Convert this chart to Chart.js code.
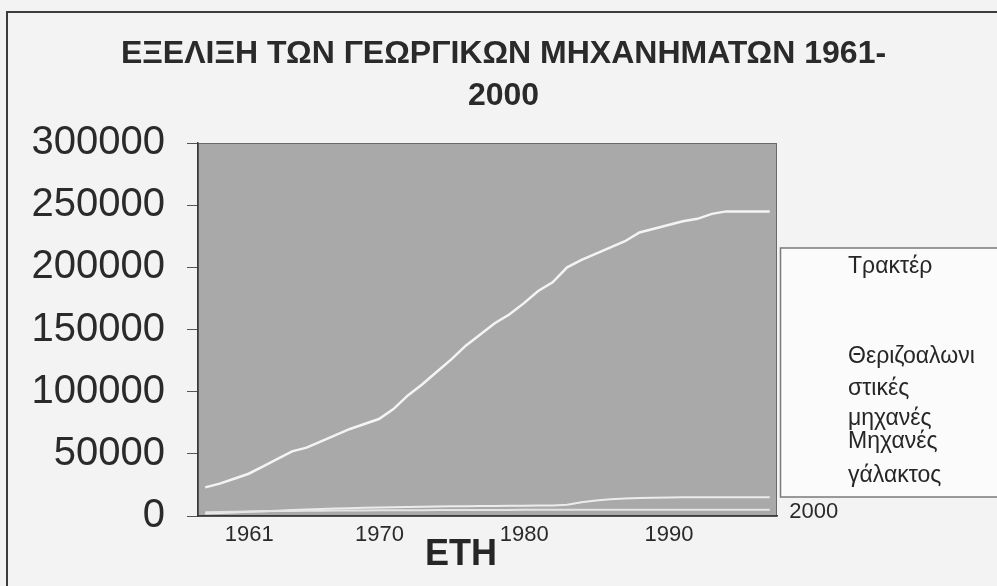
<!DOCTYPE html>
<html>
<head>
<meta charset="utf-8">
<script src="https://cdn.jsdelivr.net/npm/chart.js@4.4.1/dist/chart.umd.min.js"></script>
<style>
    html, body { margin: 0; padding: 0; background: #f3f3f3; overflow: hidden; }
    #frame {
        position: absolute; left: 6px; top: 11px; width: 1000px; height: 600px;
        border: 2px solid #3c3c3c; box-sizing: border-box;
    }
    #chart { position: absolute; left: 0; top: 0; }
</style>
</head>
<body>
<div id="frame"></div>
<canvas id="chart" width="997" height="586"></canvas>
<script>
'use strict';

const FONT = 'Arial, "Liberation Sans", sans-serif';

const years = [
    1961, 1962, 1963, 1964, 1965, 1966, 1967, 1968, 1969, 1970,
    1971, 1972, 1973, 1974, 1975, 1976, 1977, 1978, 1979, 1980,
    1981, 1982, 1983, 1984, 1985, 1986, 1987, 1988, 1989, 1990,
    1991, 1992, 1993, 1994, 1995, 1996, 1997, 1998, 1999, 2000
];

// 2000 sits apart, next to the legend box, so it is drawn by the plugin below
const shownYears = [1961, 1970, 1980, 1990];
const lastYear = 2000;

const tractors = [
    23000, 26000, 30000, 34000, 40000, 46000, 52000, 55000, 60000, 65000,
    70000, 74000, 78000, 86000, 97000, 106000, 116000, 126000, 137000, 146000,
    155000, 162000, 171000, 181000, 188000, 200000, 206000, 211000, 216000, 221000,
    228000, 231000, 234000, 237000, 239000, 243000, 245000, 245000, 245000, 245000
];

const harvesters = [
    3000, 3200, 3400, 3600, 3800, 4000, 4100, 4200, 4300, 4400,
    4500, 4500, 4600, 4600, 4700, 4700, 4800, 4800, 4800, 4900,
    4900, 4900, 5000, 5000, 5000, 5000, 5000, 5000, 5000, 5000,
    5000, 5000, 5000, 5000, 5000, 5000, 5000, 5000, 5000, 5000
];

const milking = [
    2000, 2400, 2900, 3400, 3900, 4300, 4800, 5200, 5600, 6000,
    6300, 6600, 6900, 7100, 7300, 7500, 7700, 7800, 7900, 8000,
    8100, 8200, 8300, 8400, 8500, 9000, 11000, 12500, 13500, 14000,
    14500, 14700, 14800, 15000, 15000, 15000, 15000, 15000, 15000, 15000
];

const seriesNames = ['Τρακτέρ', 'Θεριζοαλωνιστικές μηχανές', 'Μηχανές γάλακτος'];
const legendLines = [['Τρακτέρ'], ['Θεριζοαλωνι', 'στικές', 'μηχανές'], ['Μηχανές', 'γάλακτος']];
const legendBaselines = [[273], [363, 395, 425], [448, 482]];

const titleLines = ['ΕΞΕΛΙΞΗ ΤΩΝ ΓΕΩΡΓΙΚΩΝ ΜΗΧΑΝΗΜΑΤΩΝ 1961-', '2000'];
const xTitle = 'ΕΤΗ';

// grey plot background and the empty legend box, drawn before axes and lines
const backgrounds = {
    id: 'backgrounds',
    beforeDraw(chart) {
        const {ctx, chartArea: a} = chart;
        ctx.save();
        ctx.fillStyle = '#a9a9a9';
        ctx.fillRect(a.left, a.top, a.right - a.left, a.bottom - a.top);
        ctx.strokeStyle = '#6a6a6a';
        ctx.lineWidth = 1;
        ctx.strokeRect(a.left + 0.5, a.top + 0.5, a.right - a.left - 1, a.bottom - a.top);

        ctx.fillStyle = '#fbfbfb';
        ctx.fillRect(a.right + 3, 248, chart.width - a.right, 249);
        ctx.strokeStyle = '#7a7a7a';
        ctx.lineWidth = 1.5;
        ctx.strokeRect(a.right + 3.5, 248, chart.width - a.right, 249);
        ctx.restore();
    }
};

// legend texts, the raised last year label and the axis caption
const sideTexts = {
    id: 'sideTexts',
    afterDraw(chart) {
        const {ctx, chartArea: a} = chart;
        const xs = chart.scales.x;
        ctx.save();
        ctx.fillStyle = '#262626';
        ctx.font = '23px ' + FONT;
        ctx.textAlign = 'left';
        ctx.textBaseline = 'alphabetic';
        legendLines.forEach((lines, i) => {
            lines.forEach((t, j) => ctx.fillText(t, a.right + 71, legendBaselines[i][j]));
        });

        ctx.fillStyle = '#2a2a2a';
        ctx.font = '22px ' + FONT;
        ctx.textAlign = 'center';
        ctx.textBaseline = 'middle';
        ctx.fillText(String(lastYear), xs.getPixelForValue(years.indexOf(lastYear)) + 44, a.bottom - 4);

        ctx.fillStyle = '#262626';
        ctx.font = 'bold 36px ' + FONT;
        ctx.textBaseline = 'alphabetic';
        ctx.fillText(xTitle, a.left + 263, 565);
        ctx.restore();
    }
};

new Chart(document.getElementById('chart'), {
    type: 'line',
    data: {
        labels: years,
        datasets: [
            {label: seriesNames[0], data: tractors, borderColor: '#f4f4f4', borderWidth: 2.5},
            {label: seriesNames[1], data: harvesters, borderColor: '#e4e4e4', borderWidth: 2},
            {label: seriesNames[2], data: milking, borderColor: '#ececec', borderWidth: 2},
        ]
    },
    options: {
        responsive: false,
        animation: false,
        layout: {padding: {left: 10, top: 0, right: 0, bottom: 0}},
        elements: {
            point: {radius: 0},
            line: {tension: 0}
        },
        plugins: {
            legend: {display: false},
            tooltip: {enabled: false},
            title: {
                display: true,
                text: titleLines,
                color: '#2a2a2a',
                font: {family: FONT, size: 32, weight: 'bold', lineHeight: 1.3125},
                padding: {top: 33, bottom: 26}
            }
        },
        scales: {
            x: {
                type: 'category',
                offset: true,
                grid: {display: false, drawTicks: false},
                border: {display: true, color: '#3a3a3a', width: 1.5},
                afterFit: (s) => { s.height = 70; },
                ticks: {
                    autoSkip: false,
                    maxRotation: 0,
                    labelOffset: 44,
                    padding: 8,
                    color: '#2a2a2a',
                    font: {family: FONT, size: 22, lineHeight: 1},
                    callback: function(value, index) {
                        const y = years[index];
                        return shownYears.includes(y) ? String(y) : '';
                    }
                }
            },
            y: {
                min: 0,
                max: 300000,
                afterFit: (s) => { s.width = 188; },
                grid: {drawOnChartArea: false, drawTicks: true, tickLength: 11, color: '#555'},
                border: {display: true, color: '#3a3a3a', width: 1.5},
                ticks: {
                    stepSize: 50000,
                    padding: 22,
                    color: '#2a2a2a',
                    font: {family: FONT, size: 40},
                    callback: (v) => String(v)
                }
            },
            yRight: {
                position: 'right',
                display: true,
                grid: {display: false},
                border: {display: false},
                ticks: {display: false},
                afterFit: (s) => { s.width = 220; }
            }
        }
    },
    plugins: [backgrounds, sideTexts]
});
</script>
</body>
</html>
